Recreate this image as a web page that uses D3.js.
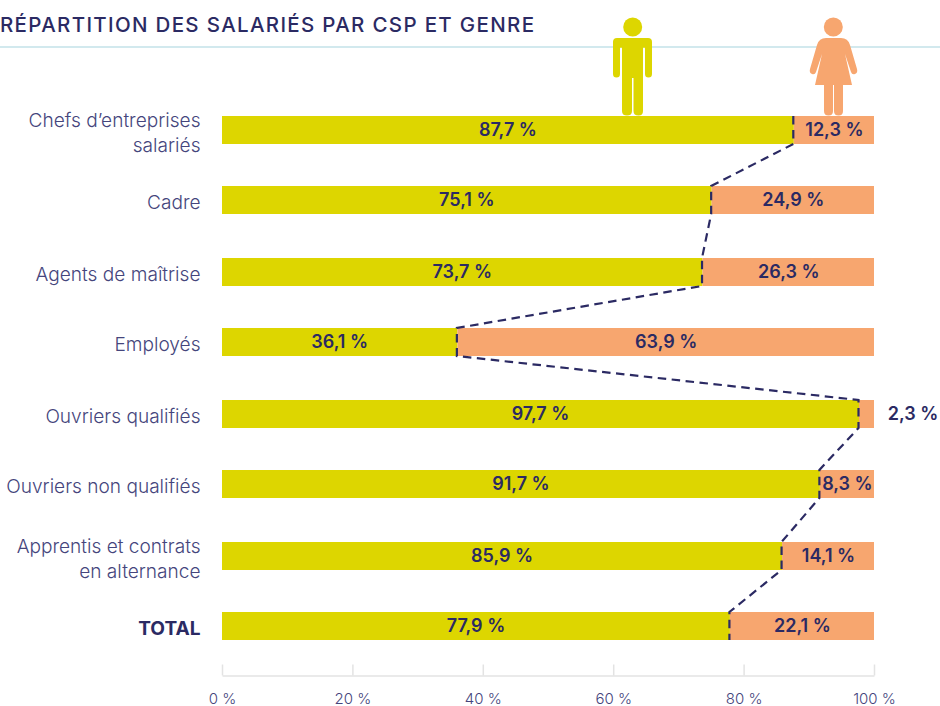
<!DOCTYPE html>
<html><head><meta charset="utf-8">
<script src="https://cdn.jsdelivr.net/npm/d3@7"></script>
<style>html,body{margin:0;padding:0;background:#fff}svg{display:block}text{font-family:Inter,Lato,sans-serif}</style>
</head><body><div id="c"></div>
<script>
const categories = [["Chefs d’entreprises","salariés"],["Cadre"],["Agents de maîtrise"],["Employés"],["Ouvriers qualifiés"],["Ouvriers non qualifiés"],["Apprentis et contrats","en alternance"],["TOTAL"]];
const hommes = [87.7,75.1,73.7,36.1,97.7,91.7,85.9,77.9];
const femmes = [12.3,24.9,26.3,63.9,2.3,8.3,14.1,22.1];
const ticks = [0,20,40,60,80,100];
const title = "RÉPARTITION DES SALARIÉS PAR CSP ET GENRE";
const fr = v => v.toFixed(1).replace(".",",")+" %";
const W=940,H=706,navy="#2b2a63",soft="#45457c",olive="#ddd600",orange="#f7a66f";
const svg=d3.select("#c").append("svg").attr("width",W).attr("height",H);
const x=d3.scaleLinear().domain([0,100]).range([222,874]);
const bh=28;
const yb=d3.scalePoint().domain(d3.range(categories.length)).range([116,612]);
const barTop=i=>2*Math.round(yb(i)/2);
const mid=i=>barTop(i)+bh/2;
svg.append("line").attr("x1",0).attr("x2",W).attr("y1",47).attr("y2",47).attr("stroke","#d2e9ee").attr("stroke-width",2);
svg.append("text").attr("x",0).attr("y",32).attr("font-size",20.5).attr("font-weight",500).attr("fill",navy).attr("textLength",534).text(title);
// icons
const man=svg.append("g").attr("fill",olive);
man.append("circle").attr("cx",632.7).attr("cy",27).attr("r",9.5);
man.append("path").attr("d","M617 38H648Q652 38 652 42V74Q652 77.5 648.5 77.5Q645 77.5 645 74V48.5Q645 47.5 644 47.5Q643 47.5 643 48.5V111Q643 115.5 638.5 115.5Q633.5 115.5 633.5 111V78H632V111Q632 115.5 627 115.5Q622 115.5 622 111V48.5Q622 47.5 621 47.5Q620 47.5 620 48.5V74Q620 77.5 616.5 77.5Q613 77.5 613 74V42Q613 38 617 38Z");
const wom=svg.append("g").attr("fill",orange);
wom.append("circle").attr("cx",833.3).attr("cy",27).attr("r",9.5);
wom.append("path").attr("d","M826 38H841Q848 38 850 45L857 69Q858 73 855 74Q852 75 851 72L845 54L852 85H843V111Q843 115.5 838.5 115.5Q834 115.5 834 111V85H833V111Q833 115.5 828.5 115.5Q824 115.5 824 111V85H815L822 54L816 72Q815 75 812 74Q809 73 810 69L817 45Q819 38 826 38Z");
// bars
const rows=svg.append("g").selectAll("g").data(categories).join("g");
rows.append("rect").attr("x",x(0)).attr("y",(d,i)=>barTop(i)).attr("height",bh).attr("width",(d,i)=>x(hommes[i])-x(0)).attr("fill",olive);
rows.append("rect").attr("x",(d,i)=>x(hommes[i])).attr("y",(d,i)=>barTop(i)).attr("height",bh).attr("width",(d,i)=>x(100)-x(hommes[i])).attr("fill",orange);
// dashed connector
const pts=[];
hommes.forEach((v,i)=>{pts.push([x(v)-0.5,barTop(i)],[x(v)-0.5,barTop(i)+bh]);});
svg.append("path").attr("d",d3.line()(pts)).attr("fill","none").attr("stroke",navy).attr("stroke-width",2.2).attr("stroke-dasharray","8.5 5.5");
// value labels
const vl=svg.append("g");
hommes.forEach((v,i)=>{
 const c=mid(i)+6;
 vl.append("text").attr("x",(x(0)+x(v))/2).attr("y",c).attr("font-size",18).attr("font-weight",600).attr("fill",navy).attr("text-anchor","middle").text(fr(v));
 const f=femmes[i];
 const out=f<5;
 vl.append("text").attr("x",out?x(100)+39:(x(v)+x(100))/2+0.5).attr("y",c).attr("font-size",18).attr("font-weight",600).attr("fill",navy).attr("text-anchor","middle").text(fr(f));
});
// category labels
categories.forEach((c,i)=>{
 const isT=c[0]==="TOTAL";
 c.forEach((t,j)=>{
  svg.append("text").attr("x",200.5).attr("y",mid(i)+9-(c.length-1)*12.5+j*25).attr("text-anchor","end")
   .attr("font-size",19.1).attr("font-weight",isT?700:300).attr("fill",isT?navy:soft).text(t);
 });
});
// axis
const ax=svg.append("g").attr("transform","translate(0,675.5)").call(d3.axisBottom(x).tickValues(ticks).tickSize(-11).tickFormat(d=>d+" %").tickSizeOuter(0));
ax.select(".domain").attr("stroke","#e3e3e3").attr("stroke-width",1.5);
ax.selectAll(".tick line").attr("stroke","#e3e3e3").attr("stroke-width",1.5);
ax.selectAll(".tick text").attr("y",28).attr("dy",0).attr("font-size",15).attr("font-weight",300).attr("font-family","Inter").attr("fill",soft);
</script></body></html>
